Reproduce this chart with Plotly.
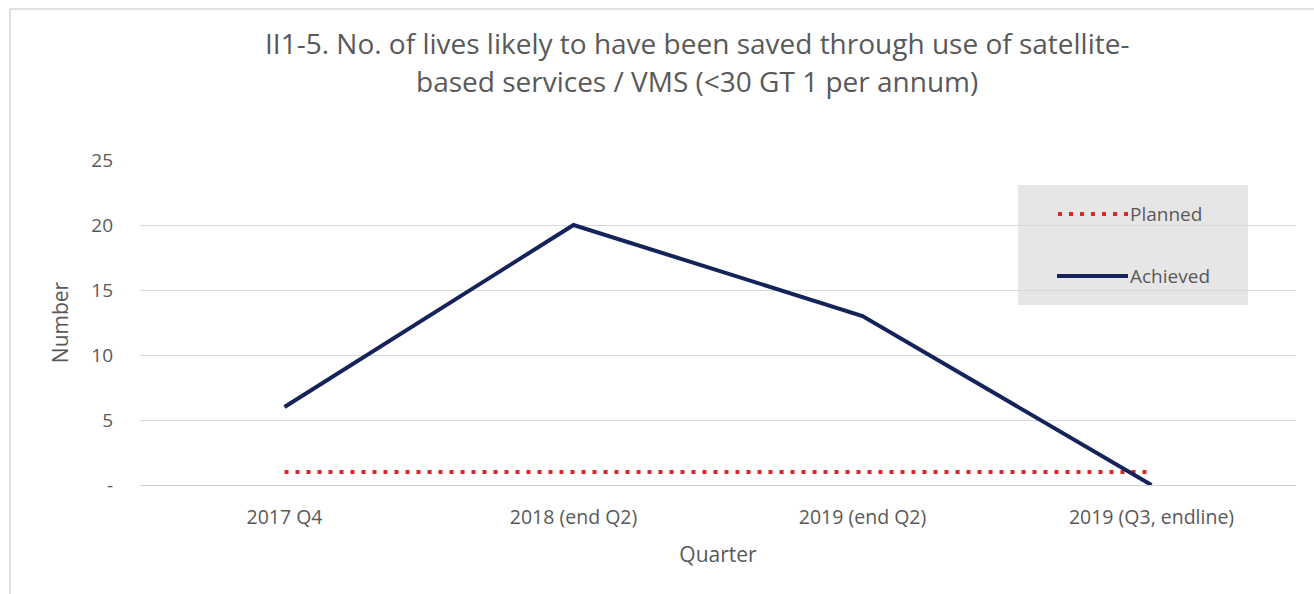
import plotly.graph_objects as go

# Chart data
quarters = ["2017 Q4", "2018 (end Q2)", "2019 (end Q2)", "2019 (Q3, endline)"]
planned = [1, 1, 1, 1]
achieved = [6, 20, 13, 0]
y_ticks = [0, 5, 10, 15, 20, 25]
y_tick_labels = ["-", "5", "10", "15", "20", "25"]
title_lines = [
    "II1-5. No. of lives likely to have been saved through use of satellite-",
    "based services / VMS (&lt;30 GT 1 per annum)",
]

W, H = 1314, 594
M_L, M_R, M_T, M_B = 140, 18, 160, 109
PLOT_W = W - M_L - M_R
PLOT_H = H - M_T - M_B

RED = "#E0262B"
NAVY = "#14235A"
GREY_TXT = "#595959"
FONT = "'Open Sans', Lato, sans-serif"


def px_x(x):
    return (x - M_L) / PLOT_W


def px_y(y):
    return (H - M_B - y) / PLOT_H


fig = go.Figure()
fig.add_trace(go.Scatter(
    x=quarters, y=planned, mode="lines", name="Planned",
    line=dict(color=RED, width=4, dash="4px,7px"),
))
fig.add_trace(go.Scatter(
    x=quarters, y=achieved, mode="lines", name="Achieved",
    line=dict(color=NAVY, width=4),
))

shapes = [
    # outer frame
    dict(type="line", xref="paper", yref="paper", x0=px_x(10), x1=px_x(W + 5),
         y0=px_y(9), y1=px_y(9), line=dict(color="#D4D4D4", width=1.5)),
    dict(type="line", xref="paper", yref="paper", x0=px_x(10), x1=px_x(10),
         y0=px_y(9), y1=px_y(H + 5), line=dict(color="#D4D4D4", width=1.5)),
    # legend box
    dict(type="rect", xref="paper", yref="paper", x0=px_x(1018), x1=px_x(1248),
         y0=px_y(185), y1=px_y(305), fillcolor="#E7E6E6", line=dict(width=0),
         layer="below"),
    dict(type="line", xref="paper", yref="paper", x0=px_x(1058), x1=px_x(1128),
         y0=px_y(214), y1=px_y(214), line=dict(color=RED, width=4, dash="4px,7px")),
    dict(type="line", xref="paper", yref="paper", x0=px_x(1057), x1=px_x(1128),
         y0=px_y(276), y1=px_y(276), line=dict(color=NAVY, width=4)),
]

annotations = [
    dict(text="Planned", xref="paper", yref="paper", x=px_x(1128), y=px_y(214),
         xanchor="left", yanchor="middle", showarrow=False,
         font=dict(family=FONT, size=19, color=GREY_TXT)),
    dict(text="Achieved", xref="paper", yref="paper", x=px_x(1128), y=px_y(276),
         xanchor="left", yanchor="middle", showarrow=False,
         font=dict(family=FONT, size=19, color=GREY_TXT)),
]
# two-line chart title
for line_text, cy in zip(title_lines, [43, 81]):
    annotations.append(dict(
        text=line_text, xref="paper", yref="paper", x=px_x(697), y=px_y(cy),
        xanchor="center", yanchor="middle", showarrow=False,
        font=dict(family=FONT, size=28, color=GREY_TXT),
    ))

fig.update_layout(
    width=W, height=H,
    margin=dict(l=M_L, r=M_R, t=M_T, b=M_B),
    paper_bgcolor="white", plot_bgcolor="white",
    showlegend=False,
    shapes=shapes,
    annotations=annotations,
    font=dict(family=FONT, color=GREY_TXT),
)

fig.update_xaxes(
    range=[-0.5, 3.5], showgrid=False, zeroline=False, showline=False,
    ticks="", ticklabelstandoff=18,
    tickfont=dict(family=FONT, size=19.5, color=GREY_TXT),
    title=dict(text="Quarter", font=dict(family=FONT, size=21, color=GREY_TXT), standoff=18),
)
fig.update_yaxes(
    range=[0, 25], tickvals=y_ticks, ticktext=y_tick_labels,
    showgrid=True, gridcolor="#D9D9D9", gridwidth=1,
    zeroline=True, zerolinecolor="#D0D0D0", zerolinewidth=1, showline=False,
    ticks="", ticklabelstandoff=26,
    tickfont=dict(family=FONT, size=19, color=GREY_TXT),
    title=dict(text="Number", font=dict(family=FONT, size=21, color=GREY_TXT), standoff=16),
)

fig.write_html("out.html")
